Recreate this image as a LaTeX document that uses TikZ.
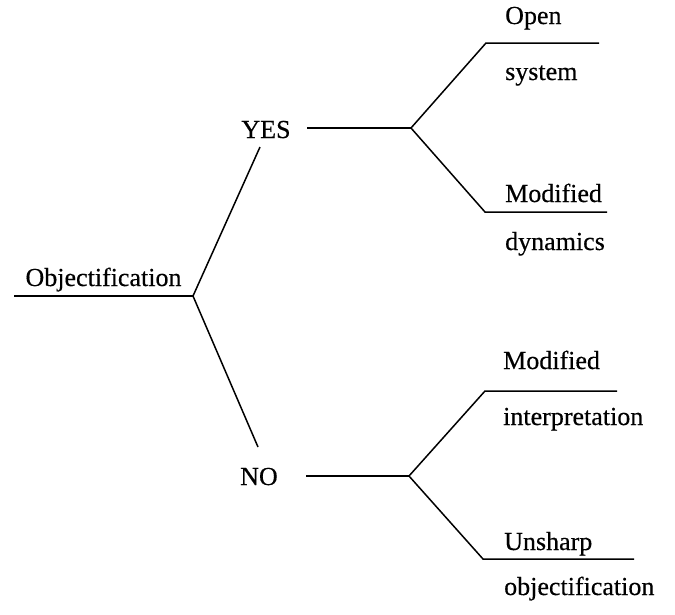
\documentclass[tikz,border=0pt]{standalone}
\usepackage{fontspec}
\setmainfont{Liberation Serif}[FakeBold=0.4]
\begin{document}
\begin{tikzpicture}[x=1pt,y=-1pt,
  lbl/.style={inner sep=0pt, font=\fontsize{26}{30}\selectfont},
  branch/.style={line width=1.5pt}]
\useasboundingbox (0,0) rectangle (675,614);
% root
\node[lbl, anchor=base] (obj) at (103.5,286) {Objectification};
\coordinate (objL) at (14,296);
\coordinate (j0) at (193,296);
\coordinate (yesT) at (260,147);
\coordinate (noT) at (258,447);
\draw[branch] (objL) -- (j0);
\draw[branch] (yesT) -- (j0) -- (noT);
% YES branch
\node[lbl, anchor=base] (yes) at (266,138) {YES};
\coordinate (yesR) at (307,128);
\coordinate (j1) at (411,128);
\coordinate (a1) at (486,43);
\coordinate (a2) at (599,43);
\coordinate (b1) at (485,212);
\coordinate (b2) at (607,212);
\draw[branch] (yesR) -- (j1);
\draw[branch] (a2) -- (a1) -- (j1) -- (b1) -- (b2);
\node[lbl, anchor=base west] (open) at (505,24) {Open};
\node[lbl, anchor=base west] (system) at (505,80) {system};
\node[lbl, anchor=base west] (mod1) at (505,202) {Modified};
\node[lbl, anchor=base west] (dyn) at (505,250) {dynamics};
% NO branch
\node[lbl, anchor=base] (no) at (259,485) {NO};
\coordinate (noR) at (306,476);
\coordinate (j2) at (409,476);
\coordinate (c1) at (485,391);
\coordinate (c2) at (617,391);
\coordinate (d1) at (483,559);
\coordinate (d2) at (634,559);
\draw[branch] (noR) -- (j2);
\draw[branch] (c2) -- (c1) -- (j2) -- (d1) -- (d2);
\node[lbl, anchor=base west] (mod2) at (503,369) {Modified};
\node[lbl, anchor=base west] (interp) at (503,425) {interpretation};
\node[lbl, anchor=base west] (unsharp) at (504,550) {Unsharp};
\node[lbl, anchor=base west] (objf) at (504,595) {objectification};
\end{tikzpicture}
\end{document}
